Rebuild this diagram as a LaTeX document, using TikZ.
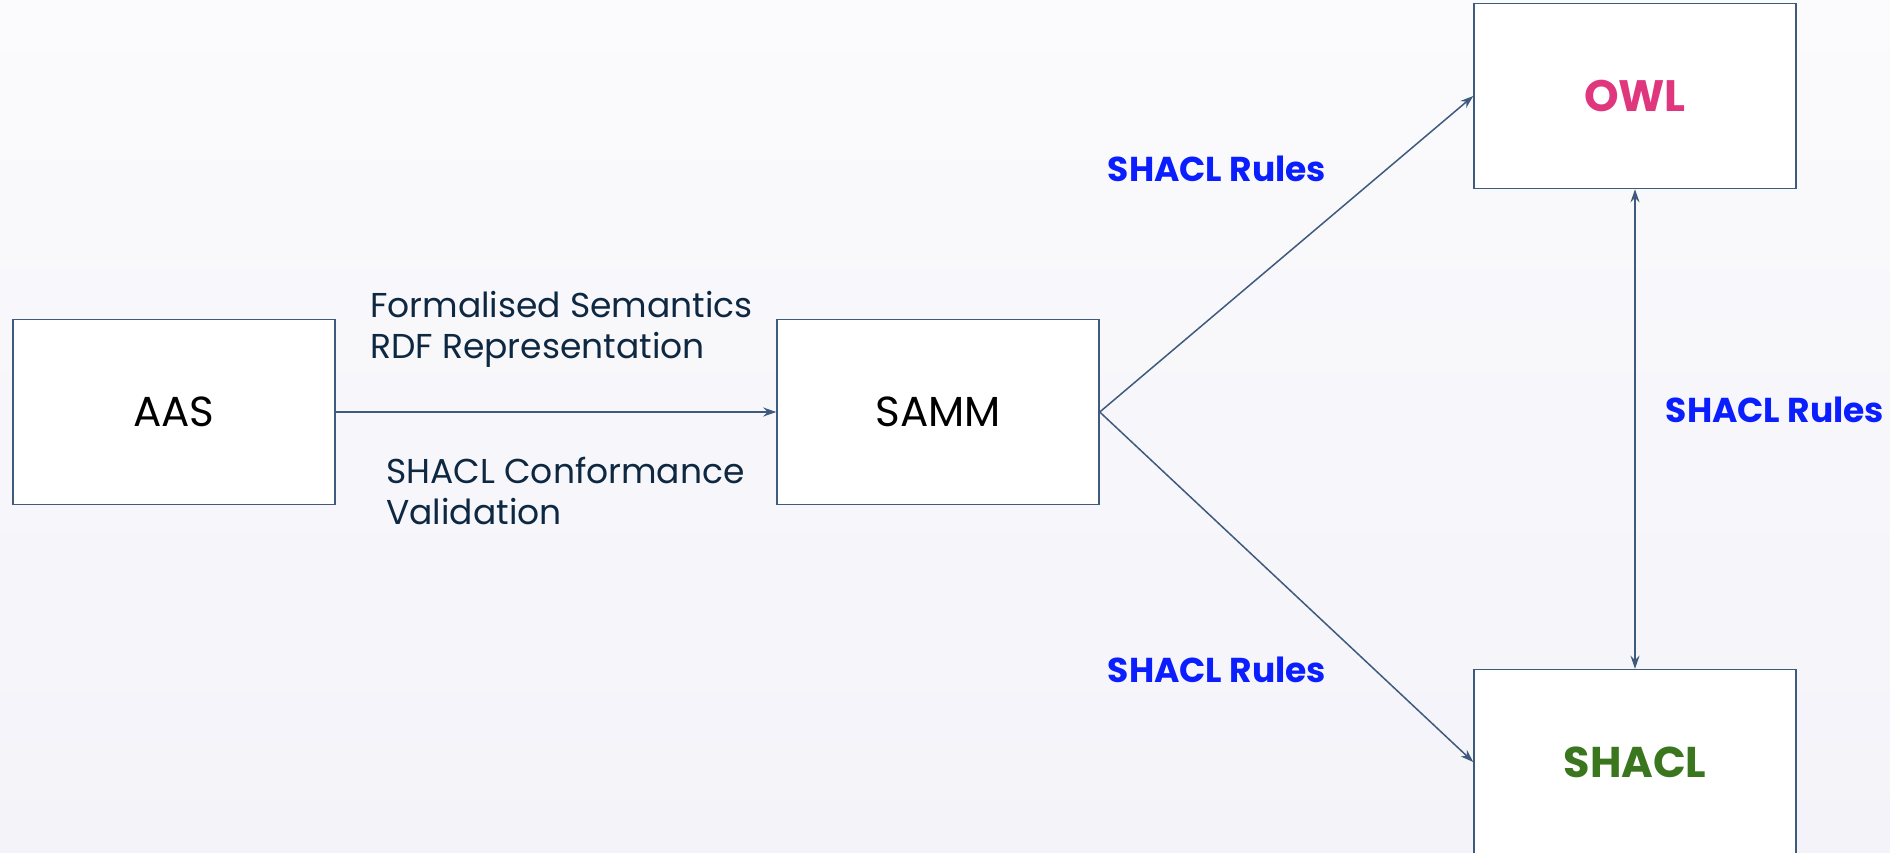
\documentclass[tikz,border=0pt]{standalone}
\usepackage{fontspec}
\setmainfont{Poppins}
\usetikzlibrary{arrows.meta}
\definecolor{bgtop}{HTML}{FBFBFD}
\definecolor{bgbot}{HTML}{F3F3F9}
\definecolor{edge}{HTML}{3E5A7C}
\definecolor{navy}{HTML}{0E2841}
\definecolor{ruleblue}{HTML}{0A1EFF}
\definecolor{owlpink}{HTML}{E0367E}
\definecolor{shgreen}{HTML}{3A761E}
\tikzset{
  box/.style={draw=edge, line width=1.5pt, fill=white, minimum width=322pt, minimum height=185pt, inner sep=0pt, font=\fontsize{42}{50}\selectfont, text=black},
  conn/.style={draw=edge, line width=1.5pt, -{Stealth[length=13pt,width=9pt]}},
  lbl/.style={font=\fontsize{34.5}{41}\selectfont, text=navy, align=left, inner sep=0pt},
  rule/.style={font=\fontsize{34.5}{41}\selectfont\bfseries, text=ruleblue, inner sep=0pt}
}
\begin{document}
\begin{tikzpicture}[x=1pt,y=-1pt]
\useasboundingbox (0,0) rectangle (1890,852);
\clip (0,0) rectangle (1890,852);
\shade[top color=bgtop, bottom color=bgbot] (0,0) rectangle (1890,852);
\node[box] (aas) at (174,412) {AAS};
\node[box] (samm) at (938,412) {SAMM};
\node[box, font=\fontsize{44}{52}\selectfont\bfseries, text=owlpink] (owl) at (1635,96) {OWL};
\node[box, font=\fontsize{43}{52}\selectfont\bfseries, text=shgreen] (shacl) at (1635,762) {SHACL};
\draw[conn] (aas.east) -- (samm.west);
\draw[conn] (samm.east) -- (owl.west);
\draw[conn] (samm.east) -- (shacl.west);
\draw[conn, {Stealth[length=13pt,width=9pt]}-{Stealth[length=13pt,width=9pt]}] (owl.south) -- (shacl.north);
\node[lbl, anchor=west] (fs) at (370,329) {Formalised Semantics\\RDF Representation};
\node[lbl, anchor=west] (scv) at (386,491) {SHACL Conformance\\Validation};
\node[rule] (r1) at (1217,169) {SHACL Rules};
\node[rule] (r2) at (1217,670) {SHACL Rules};
\node[rule] (r3) at (1775,410) {SHACL Rules};
\end{tikzpicture}
\end{document}
